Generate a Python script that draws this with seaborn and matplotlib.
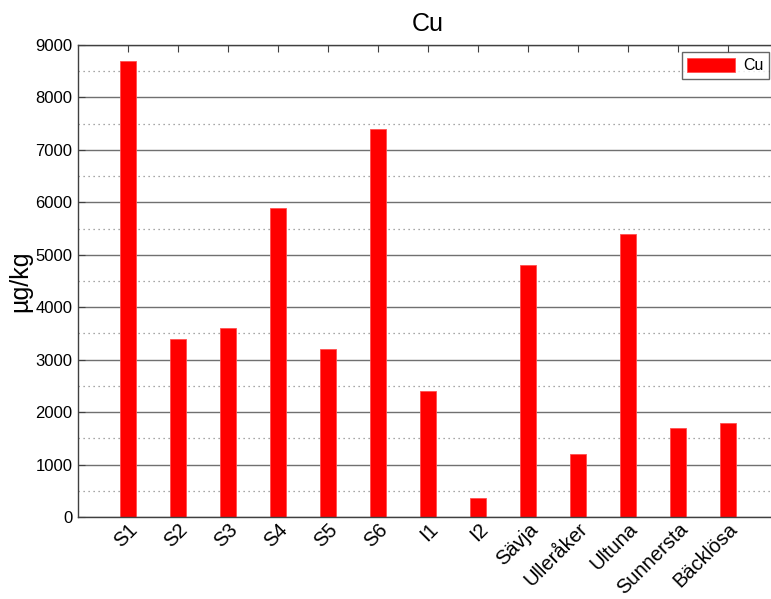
import matplotlib
matplotlib.use("Agg")
import matplotlib.pyplot as plt
import pandas as pd
import seaborn as sns
from matplotlib.ticker import MultipleLocator

# Data
sites = ["S1", "S2", "S3", "S4", "S5", "S6", "I1", "I2",
         "Sävja", "Ulleråker", "Ultuna", "Sunnersta", "Bäcklösa"]
cu_values = [8700, 3400, 3600, 5900, 3200, 7400, 2400, 360,
             4800, 1200, 5400, 1700, 1800]

df = pd.DataFrame({"site": sites, "Cu": cu_values})

sns.set_style("white")
plt.rcParams["font.family"] = ["Liberation Sans", "DejaVu Sans"]
plt.rcParams["text.color"] = "black"
plt.rcParams["axes.labelcolor"] = "black"
plt.rcParams["xtick.labelcolor"] = "black"
plt.rcParams["ytick.labelcolor"] = "black"

fig = plt.figure(figsize=(7.71, 5.99), dpi=100)
W, H = 771, 599
ax = fig.add_axes([78 / W, (H - 517) / H, (778 - 78) / W, (517 - 45) / H])

sns.barplot(data=df, x="site", y="Cu", color="red", saturation=1,
            width=0.32, edgecolor="#ff5050", linewidth=0.6, ax=ax,
            label="Cu")

ax.set_xlim(-1, 13)
ax.set_ylim(0, 9000)
ax.yaxis.set_major_locator(MultipleLocator(1000))
ax.yaxis.set_minor_locator(MultipleLocator(500))

ax.set_axisbelow(True)
ax.grid(which="major", axis="y", color="#707070", linestyle="-", linewidth=1)
ax.grid(which="minor", axis="y", color="#8a8a8a", linestyle=(0, (1, 3)), linewidth=0.9)
ax.grid(which="major", axis="x", visible=False)

for s in ax.spines.values():
    s.set_color("#404040")
    s.set_linewidth(1)
    s.set_visible(True)

ax.tick_params(axis="both", which="major", direction="in", length=5,
               color="#404040", top=True, right=True, left=True, bottom=True)
ax.tick_params(axis="y", which="minor", left=False, right=False)
ax.tick_params(axis="y", labelsize=12, pad=4)
ax.tick_params(axis="x", labelsize=14.5, pad=2)

plt.setp(ax.get_xticklabels(), rotation=45, ha="right", rotation_mode="anchor")

ax.set_xlabel("")
ax.set_ylabel("µg/kg", fontsize=18, labelpad=2)
ax.set_title("Cu", fontsize=18, pad=10)

leg = ax.legend(loc="upper right", bbox_to_anchor=(769 / W, 1 - 52 / H),
                bbox_transform=fig.transFigure, fontsize=11.5, frameon=True,
                fancybox=False, edgecolor="#404040", handlelength=3.0,
                handleheight=1.0, borderpad=0.35, handletextpad=0.5,
                borderaxespad=0)
leg.get_frame().set_linewidth(1)

fig.savefig("out.png", dpi=100)
